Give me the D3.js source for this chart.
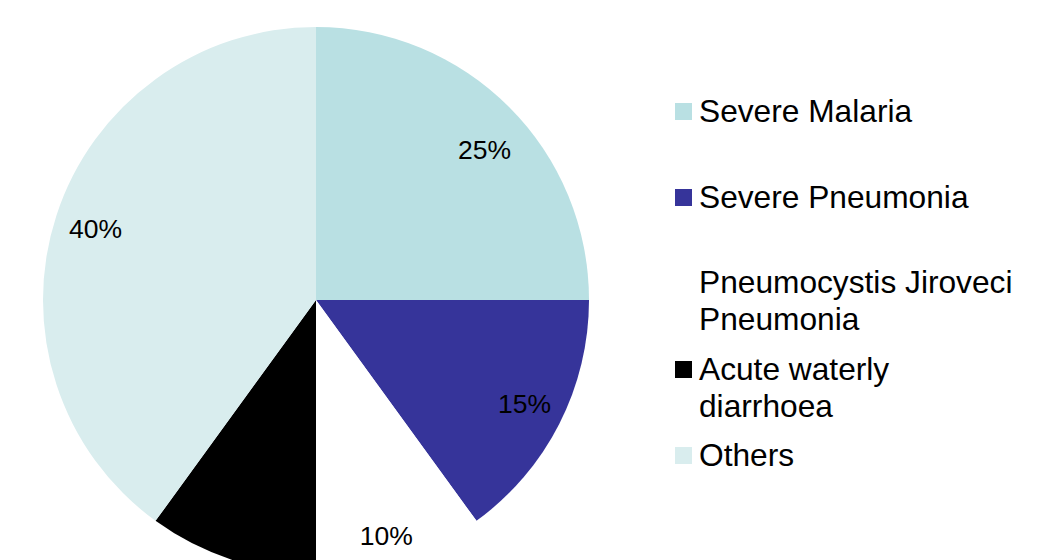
<!DOCTYPE html>
<html lang="en">
<head>
    <meta charset="UTF-8">
    <title>Causes of admission</title>
    <style>
        body { margin: 0; background: #fff; }
        text { font-family: "Liberation Sans", Arial, sans-serif; }
    </style>
</head>
<body>
    <svg id="chart" width="1054" height="560"></svg>

    <script src="https://d3js.org/d3.v7.min.js"></script>
    <script>
        // Chart data
        const categories = ["Severe Malaria", "Severe Pneumonia", "Pneumocystis Jiroveci Pneumonia", "Acute waterly diarrhoea", "Others"];
        const values = [25, 15, 10, 10, 40];
        const colors = ["#b9e0e3", "#36349a", "#ffffff", "#000000", "#d9edee"];
        // legend text broken in lines like the original
        const legendLines = [["Severe Malaria"], ["Severe Pneumonia"], ["Pneumocystis Jiroveci", "Pneumonia"], ["Acute waterly", "diarrhoea"], ["Others"]];

        const svg = d3.select("#chart");
        const cx = 316, cy = 300, radius = 273;

        const pie = d3.pie().sort(null).value(d => d.value);
        const arc = d3.arc().innerRadius(0).outerRadius(radius);
        const labelArc = d3.arc().innerRadius(234).outerRadius(234);
        // small nudges so labels sit where the original placed them
        const labelShift = [[3, 15], [0, -3], [-2, 13], [0, 0], [2, 1]];

        const slices = pie(values.map((v, i) => ({ name: categories[i], value: v, color: colors[i] })));

        const g = svg.append("g").attr("transform", `translate(${cx},${cy})`);

        g.selectAll("path")
            .data(slices)
            .join("path")
            .attr("d", arc)
            .attr("fill", d => d.data.color);

        // percentage labels (black, so the one on the black slice disappears)
        g.selectAll("text")
            .data(slices)
            .join("text")
            .attr("transform", (d, i) => {
                const [x, y] = labelArc.centroid(d);
                return `translate(${x + labelShift[i][0]},${y + labelShift[i][1]})`;
            })
            .attr("text-anchor", "middle")
            .attr("dy", "0.35em")
            .style("font-size", "26.5px")
            .attr("fill", "#000")
            .text(d => d.data.value + "%");

        // Legend
        const legendY = [122, 208, 293, 380, 466];
        const lineH = 37;
        const legend = svg.append("g");

        categories.forEach((c, i) => {
            const item = legend.append("g").attr("transform", `translate(0,${legendY[i]})`);
            item.append("rect")
                .attr("x", 675)
                .attr("y", -19)
                .attr("width", 17)
                .attr("height", 17)
                .attr("fill", colors[i]);
            legendLines[i].forEach((line, j) => {
                item.append("text")
                    .attr("x", 699)
                    .attr("y", j * lineH)
                    .style("font-size", "31.7px")
                    .attr("fill", "#000")
                    .text(line);
            });
        });
    </script>
</body>
</html>
